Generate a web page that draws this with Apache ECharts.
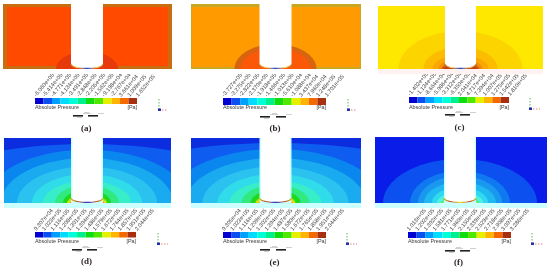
<!DOCTYPE html>
<html><head><meta charset="utf-8">
<style>html,body{margin:0;padding:0;background:#fff}#c{width:550px;height:270px}</style>
<script src="https://cdn.jsdelivr.net/npm/echarts@6/dist/echarts.min.js"></script>
</head><body><div id="c"></div>
<script>
// ---- tick labels ----
const ticksA=["-6.060e+05","-5.414e+05","-4.771e+05","-4.134e+05","-3.491e+05","-2.848e+05","-2.205e+05","-1.562e+05","-9.198e+04","-2.767e+04","3.661e+04","1.009e+05","1.652e+05"];
const ticksB=["-3.727e+05","-3.275e+05","-2.822e+05","-2.370e+05","-1.918e+05","-1.466e+05","-1.013e+05","-5.610e+04","-1.088e+04","3.437e+04","7.960e+04","1.248e+05","1.701e+05"];
const ticksC=["-1.402e+05","-1.134e+05","-8.664e+04","-5.986e+04","-3.312e+04","-6.350e+03","2.041e+04","4.717e+04","7.394e+04","1.007e+05","1.275e+05","1.542e+05","1.810e+05"];
const ticksD=["9.307e+04","1.023e+05","1.116e+05","1.208e+05","1.301e+05","1.394e+05","1.486e+05","1.579e+05","1.672e+05","1.764e+05","1.857e+05","1.951e+05","2.044e+05"];
const ticksE=["9.305e+04","1.023e+05","1.116e+05","1.209e+05","1.302e+05","1.394e+05","1.487e+05","1.580e+05","1.672e+05","1.765e+05","1.858e+05","1.951e+05","2.044e+05"];
const ticksF=["1.013e+05","1.202e+05","1.392e+05","1.581e+05","1.771e+05","1.960e+05","2.150e+05","2.339e+05","2.529e+05","2.718e+05","2.908e+05","3.097e+05","3.286e+05"];
// ---- contour extents (horizontal reach, vertical reach), largest first ----
const reachA=[31]; const riseA=[17.5];
const reachB=[41,35]; const riseB=[25,21];
const reachC=[62,37,28,22,19,17]; const riseC=[38,22,14,10,7,5];
const reachD=[185,102,86,70,55,44,32,24,20,18.5,17]; const riseD=[59,53.4,45,36.5,29,22,18,13,8,6,3.5];
const reachE=[200,108,90,73,58,46,34,25,20,18.5,17]; const riseE=[60,54,45,36.5,29,22,18,13,8,6,3.5];
const reachF=[77,50,42,36,28,23,19,17]; const riseF=[44,32,27,21,16,11,8,6];
// ---- colour-bar segments (one per interval between ticks) ----
const barLevels=[0,1,2,3,4,5,6,7,8,9,10,11];
const barColors=['#0000d0','#0a50f0','#00a0ff','#00dcff','#00ffd8','#00f090','#10dc10','#50e800','#e4f000','#ffb400','#f56a00','#a83010'];

const panels=[
 {t:ticksA,r:reachA,h:riseA,x:3,y:4,w:169,b:69,bar:[35,98,102,6],base:'#ff4a00',frame:'#c86e10',ins:[4,3,4,3],colors:['#e63a0c'],strip:null,side:null,cap:['#b07020','#ffe060','#2040d0','#ffe060','#b07020'],cx:87,ph:16,cap2:'(a)',sc:[73,88,115],tr:[159,99,167,110],lt:108.5,capY:129},
 {t:ticksB,r:reachB,h:riseB,x:191,y:4,w:170,b:69,bar:[223,98,103,7],base:'#ff9a00',frame:'#c8a820',ins:[1,3,1,2],colors:['#d86410','#fb5808'],strip:null,side:null,cap:['#b07020','#ffe060','#2040d0','#ffe060','#b07020'],cx:275.5,ph:16,cap2:'(b)',sc:[260,276,116],tr:[348,99,357,110],lt:108.5,capY:129},
 {t:ticksC,r:reachC,h:riseC,x:378,y:6,w:165,b:69,bar:[409,97,100,6],base:'#ffe800',frame:'#ffe800',ins:[0,0,0,0],colors:['#fcd400','#fcbc00','#f8a800','#f09000','#e06010','#c04010'],strip:'#fff2f2',side:null,cap:['#a04010','#ffe060','#2040d0','#ffe060','#a04010'],cx:460.5,ph:15.5,cap2:'(c)',sc:[445,460,114],tr:[530,98,540,109],lt:108,capY:128},
 {t:ticksD,r:reachD,h:riseD,x:4,y:138,w:167,b:203,bar:[35,232,101,5.5],base:'#0c2ce0',frame:'#0c2ce0',ins:[0,0,0,0],colors:['#0f5cf0','#0a86ef','#1aaaf0','#2cc2f0','#30dcea','#38eec8','#30ea80','#20d820','#b0ea10','#f8d800','#f07010'],strip:'#ccffff',side:'#ccffff',cap:['#e8d000','#c04010','#2040d0','#c04010','#e8d000'],cx:87,ph:16,cap2:'(d)',sc:[72,87,249],tr:[158,233,168,244],lt:242,capY:262},
 {t:ticksE,r:reachE,h:riseE,x:191,y:138,w:170,b:203,bar:[223,232,103,6],base:'#0c2ce0',frame:'#0c2ce0',ins:[0,0,0,0],colors:['#0f5cf0','#0a86ef','#1aaaf0','#2cc2f0','#30dcea','#38eec8','#30ea80','#20d820','#b0ea10','#f8d800','#f07010'],strip:'#ccffff',side:'#ccffff',cap:['#e8d000','#c04010','#2040d0','#c04010','#e8d000'],cx:275.5,ph:16,cap2:'(e)',sc:[260,276,249],tr:[347,233,357,244],lt:242,capY:263},
 {t:ticksF,r:reachF,h:riseF,x:375,y:137,w:172,b:203,bar:[408,232,103,6],base:'#0a1ce8',frame:'#0a1ce8',ins:[0,0,0,0],colors:['#0c50f0','#1078f0','#1a98f0','#20b8f0','#30d8f0','#50f0e0','#40f0a0','#d8e820'],strip:'#ccffff',side:'#ccffff',cap:['#e8d000','#c04010','#f0e040','#c04010','#e8d000'],cx:460,ph:16,cap2:'(f)',sc:[445,460,250],tr:[532,233,543,244],lt:242,capY:263}
];

const grid=[],xAxis=[],yAxis=[],series=[],title=[],graphic=[];
const STRIP=5;
panels.forEach((p,i)=>{
  const H=p.b-p.y, gi=i*2;
  grid.push({left:p.x,top:p.y,width:p.w,height:H+STRIP});
  xAxis.push({type:'value',gridIndex:gi,min:p.x-p.cx,max:p.x+p.w-p.cx,show:false});
  yAxis.push({type:'value',gridIndex:gi,min:-STRIP,max:H,show:false});
  const xMin=p.x-p.cx,xMax=p.x+p.w-p.cx;
  const rect=(api,x0,y0,x1,y1,fill)=>{
    const a=api.coord([x0,y1]),b=api.coord([x1,y0]);
    return {type:'rect',shape:{x:a[0],y:a[1],width:b[0]-a[0],height:b[1]-a[1]},style:{fill}};
  };
  // background + frame
  series.push({type:'custom',xAxisIndex:gi,yAxisIndex:gi,silent:true,clip:true,data:[[0,0]],
    renderItem:(ps,api)=>({type:'group',children:[
      rect(api,xMin,0,xMax,H,p.frame),
      rect(api,xMin+p.ins[0],p.ins[3],xMax-p.ins[2],H-p.ins[1],p.base)
    ]})});
  // contour bands
  series.push({type:'custom',xAxisIndex:gi,yAxisIndex:gi,silent:true,clip:true,
    data:p.r.map((rv,k)=>[rv,p.h[k],k]),
    renderItem:(ps,api)=>{
      const a=api.value(0),b=api.value(1),k=api.value(2),pts=[];
      for(let n=0;n<=64;n++){const th=Math.PI*n/64;pts.push(api.coord([a*Math.cos(th),b*Math.sin(th)]));}
      return {type:'polygon',shape:{points:pts},style:{fill:p.colors[k]}};
    }});
  // strip below the field, pillar and bottom cap
  series.push({type:'custom',xAxisIndex:gi,yAxisIndex:gi,silent:true,clip:true,data:[[p.ph,H]],
    renderItem:(ps,api)=>{
      const w=api.value(0),top=api.value(1),kids=[];
      kids.push(rect(api,xMin,-STRIP,xMax,0,p.strip||'#ffffff'));
      if(p.side)kids.push(rect(api,-w,0,w,top,p.side));
      const inset=p.side?1.5:0,pts=[api.coord([-(w-inset),top])],arc=[];
      for(let n=0;n<=24;n++){const th=Math.PI*n/24;const q=api.coord([-(w-inset)*Math.cos(th),5-4.2*Math.sin(th)]);pts.push(q);}
      pts.push(api.coord([w-inset,top]));
      kids.push({type:'polygon',shape:{points:pts},style:{fill:'#ffffff'}});
      for(let n=0;n<=24;n++){const th=Math.PI*n/24;arc.push(api.coord([-w*Math.cos(th),5-4.4*Math.sin(th)]));}
      kids.push({type:'polyline',shape:{points:arc},style:{fill:null,lineWidth:1.1,
        stroke:new echarts.graphic.LinearGradient(0,0,1,0,p.cap.map((c,n)=>({offset:n/(p.cap.length-1),color:c})))}});
      return {type:'group',children:kids};
    }});
  // colour bar with tick labels
  grid.push({left:p.bar[0],top:p.bar[1],width:p.bar[2],height:p.bar[3]});
  xAxis.push({type:'category',gridIndex:gi+1,position:'top',boundaryGap:false,data:p.t,
    axisLine:{show:false},axisTick:{show:false},splitLine:{show:false},
    axisLabel:{interval:0,rotate:50,margin:2,fontSize:5.6,color:'#444444',fontFamily:'Liberation Sans',hideOverlap:false}});
  yAxis.push({type:'value',gridIndex:gi+1,min:0,max:1,show:false});
  series.push({type:'custom',xAxisIndex:gi+1,yAxisIndex:gi+1,silent:true,clip:false,
    data:barLevels.map((l,k)=>[k,l]),
    renderItem:(ps,api)=>{
      const k=api.value(1),a=api.coord([k,1]),b=api.coord([k+1,0]);
      return {type:'rect',shape:{x:a[0],y:a[1],width:b[0]-a[0],height:b[1]-a[1]},style:{fill:barColors[k]}};
    }});
  // legend text and caption
  const ts={fontSize:5.4,fontWeight:'normal',color:'#3a3a3a',fontFamily:'Liberation Sans'};
  title.push({text:'Absolute Pressure',left:p.bar[0],top:p.lt-3,padding:0,textStyle:ts});
  title.push({text:'[Pa]',left:p.bar[0]+p.bar[2]-9.5,top:p.lt-3,padding:0,textStyle:ts});
  title.push({text:p.cap2,left:p.cx-6,top:p.capY-5,padding:0,textStyle:{fontSize:9,fontWeight:'bold',color:'#30262a',fontFamily:'Liberation Serif'}});
  // scale bar
  [0,1].forEach(s=>graphic.push({type:'rect',silent:true,shape:{x:p.sc[s],y:p.sc[2],width:10,height:1.6},style:{fill:'#222'}}));
  [[p.sc[0]+10,p.sc[2]-1.5,8],[p.sc[1]+10,p.sc[2]-1.5,6],[p.sc[0]+4,p.sc[2]+2.5,5],[p.sc[1]-4,p.sc[2]-2.5,5]].forEach(m=>
    graphic.push({type:'line',silent:true,shape:{x1:m[0],y1:m[1],x2:m[0]+m[2],y2:m[1]},style:{stroke:'#bbb',lineWidth:0.7}}));
  // axis triad
  const [tx,ty,tr,tb]=p.tr;
  graphic.push({type:'line',silent:true,shape:{x1:tx,y1:ty,x2:tx,y2:tb},style:{stroke:'#40a040',lineWidth:0.8,lineDash:[1.5,1.5]}});
  graphic.push({type:'line',silent:true,shape:{x1:tx,y1:tb,x2:tr,y2:tb},style:{stroke:'#e06060',lineWidth:0.8,lineDash:[1.5,1.5]}});
  graphic.push({type:'rect',silent:true,shape:{x:tx-1,y:tb-1.5,width:3,height:2.5},style:{fill:'#2030b0'}});
});
const chart=echarts.init(document.getElementById('c'),null,{renderer:'canvas'});
chart.setOption({animation:false,backgroundColor:'#ffffff',title,grid,xAxis,yAxis,series,graphic:{elements:graphic},tooltip:{show:false}});
</script></body></html>
